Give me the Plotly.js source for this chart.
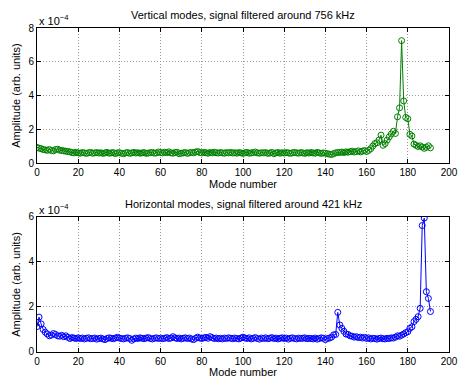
<!DOCTYPE html>
<html>
<head>
<meta charset="utf-8">
<script src="https://cdn.plot.ly/plotly-3.0.1.min.js"></script>
<style>html,body{margin:0;padding:0;background:#fff}#chart{width:458px;height:378px}</style>
</head>
<body>
<div id="chart"></div>
<script>
// Mode numbers 0..191
var modes = [];
for (var i = 0; i < 192; i++) modes.push(i);

// Vertical modes amplitude (x 1e-4)
var vertical = [
0.92,0.88,0.85,0.80,0.78,0.75,0.80,0.74,0.72,0.80,
0.82,0.76,0.74,0.72,0.70,0.68,0.66,0.62,0.60,0.64,
0.60,0.58,0.62,0.60,0.57,0.61,0.63,0.58,0.60,0.62,
0.59,0.61,0.57,0.60,0.63,0.58,0.60,0.62,0.56,0.60,
0.61,0.58,0.55,0.60,0.62,0.57,0.60,0.63,0.59,0.61,
0.58,0.60,0.62,0.57,0.59,0.61,0.63,0.58,0.60,0.65,
0.62,0.60,0.64,0.61,0.66,0.60,0.58,0.62,0.64,0.55,
0.58,0.60,0.62,0.57,0.61,0.63,0.60,0.65,0.68,0.62,
0.60,0.63,0.61,0.58,0.62,0.60,0.64,0.61,0.59,0.62,
0.60,0.58,0.62,0.60,0.63,0.59,0.61,0.58,0.62,0.60,
0.57,0.61,0.63,0.58,0.60,0.62,0.65,0.60,0.58,0.61,
0.60,0.62,0.57,0.59,0.63,0.55,0.60,0.62,0.58,0.61,
0.59,0.62,0.60,0.57,0.61,0.63,0.60,0.58,0.62,0.60,
0.57,0.61,0.59,0.62,0.60,0.58,0.63,0.60,0.57,0.60,
0.58,0.55,0.52,0.50,0.56,0.60,0.62,0.63,0.65,0.62,
0.66,0.64,0.67,0.70,0.65,0.68,0.72,0.66,0.70,0.74,
0.68,0.75,0.85,1.00,1.15,1.20,1.36,1.65,1.05,1.15,
1.36,1.55,1.72,1.88,1.75,2.74,3.27,7.25,3.68,2.70,
2.62,1.70,1.60,1.12,1.05,0.98,1.02,0.95,0.87,0.93,1.02,0.90
];

// Horizontal modes amplitude (x 1e-4)
var horizontal = [
1.13,1.55,1.25,1.00,0.88,0.80,0.72,0.75,0.82,0.78,
0.72,0.70,0.74,0.68,0.72,0.65,0.60,0.64,0.62,0.60,
0.63,0.60,0.62,0.58,0.61,0.63,0.59,0.60,0.62,0.57,
0.60,0.62,0.58,0.55,0.60,0.63,0.61,0.59,0.62,0.65,
0.62,0.60,0.58,0.61,0.63,0.60,0.52,0.58,0.62,0.60,
0.63,0.61,0.59,0.62,0.64,0.60,0.58,0.61,0.63,0.60,
0.62,0.59,0.61,0.64,0.60,0.62,0.68,0.63,0.60,0.62,
0.58,0.61,0.63,0.60,0.62,0.58,0.55,0.61,0.66,0.62,
0.60,0.63,0.65,0.61,0.68,0.64,0.60,0.62,0.59,0.61,
0.58,0.62,0.60,0.63,0.61,0.59,0.62,0.60,0.58,0.62,
0.66,0.62,0.60,0.63,0.58,0.61,0.64,0.60,0.57,0.62,
0.60,0.63,0.59,0.61,0.64,0.60,0.62,0.58,0.61,0.63,
0.60,0.62,0.57,0.61,0.63,0.60,0.58,0.62,0.60,0.61,
0.63,0.59,0.61,0.60,0.58,0.62,0.57,0.60,0.63,0.61,
0.55,0.60,0.62,0.66,0.76,0.78,1.76,1.20,1.05,0.92,
0.80,0.78,0.72,0.70,0.66,0.68,0.64,0.66,0.62,0.65,
0.60,0.63,0.58,0.61,0.60,0.57,0.60,0.62,0.59,0.58,
0.61,0.60,0.63,0.62,0.66,0.72,0.70,0.75,0.80,0.86,
0.90,1.05,1.12,1.35,1.45,1.57,1.94,5.62,5.95,2.68,2.38,1.80
];

var xTicks = [0,20,40,60,80,100,120,140,160,180,200];
var yTicksTop = [0,2,4,6,8];
var yTicksBottom = [0,2,4,6];
var titleTop = 'Vertical modes, signal filtered around 756 kHz';
var titleBottom = 'Horizontal modes, signal filtered around 421 kHz';
var xLabel = 'Mode number';
var yLabel = 'Amplitude (arb. units)';
var expLabel = 'x 10<sup>\u22124</sup>';

var tickFont = {family: 'Liberation Sans, Arial, sans-serif', size: 10, color: '#000'};
var labelFont = {family: 'Liberation Sans, Arial, sans-serif', size: 11, color: '#000'};

function xaxis(anchor) {
  return {
    anchor: anchor, range: [0, 200], tickvals: xTicks, ticktext: xTicks.map(String),
    showline: true, linecolor: '#000', linewidth: 1, mirror: 'ticks',
    ticks: 'inside', ticklen: 4, tickcolor: '#000',
    showgrid: true, gridcolor: '#999', griddash: '1px,2px', gridwidth: 1,
    zeroline: false, tickfont: tickFont,
    title: {text: xLabel, font: labelFont, standoff: 2}
  };
}
function yaxis(anchor, domain, range, ticks) {
  return {
    anchor: anchor, domain: domain, range: range, tickvals: ticks, ticktext: ticks.map(String),
    showline: true, linecolor: '#000', linewidth: 1, mirror: 'ticks',
    ticks: 'inside', ticklen: 4, tickcolor: '#000',
    showgrid: true, gridcolor: '#999', griddash: '1px,2px', gridwidth: 1,
    zeroline: false, tickfont: tickFont,
    title: {text: yLabel, font: labelFont, standoff: 5}
  };
}

var traces = [
  {x: modes, y: vertical, xaxis: 'x', yaxis: 'y', type: 'scatter', mode: 'lines+markers',
   line: {color: '#008000', width: 1},
   marker: {symbol: 'circle-open', size: 6, color: '#008000', line: {width: 1, color: '#008000'}}},
  {x: modes, y: horizontal, xaxis: 'x2', yaxis: 'y2', type: 'scatter', mode: 'lines+markers',
   line: {color: '#0000ff', width: 1},
   marker: {symbol: 'circle-open', size: 6, color: '#0000ff', line: {width: 1, color: '#0000ff'}}}
];

var layout = {
  width: 458, height: 378,
  margin: {l: 37, r: 9, t: 28, b: 26},
  paper_bgcolor: '#fff', plot_bgcolor: '#fff',
  showlegend: false, font: labelFont,
  xaxis: xaxis('y'),
  yaxis: yaxis('x', [0.5833, 1], [0, 8], yTicksTop),
  xaxis2: xaxis('y2'),
  yaxis2: yaxis('x2', [0, 0.4167], [0, 6], yTicksBottom),
  annotations: [
    {text: titleTop, xref: 'paper', yref: 'paper', x: 0.5, y: 1, yshift: 13, showarrow: false, font: labelFont, xanchor: 'center', yanchor: 'middle'},
    {text: titleBottom, xref: 'paper', yref: 'paper', x: 0.5, y: 0.4167, yshift: 13, showarrow: false, font: labelFont, xanchor: 'center', yanchor: 'middle'},
    {text: expLabel, xref: 'paper', yref: 'paper', x: 0, y: 1, yshift: 8, showarrow: false, font: labelFont, xanchor: 'left', yanchor: 'middle'},
    {text: expLabel, xref: 'paper', yref: 'paper', x: 0, y: 0.4167, yshift: 8, showarrow: false, font: labelFont, xanchor: 'left', yanchor: 'middle'}
  ]
};

Plotly.newPlot('chart', traces, layout, {displayModeBar: false, staticPlot: true});
</script>
</body>
</html>
